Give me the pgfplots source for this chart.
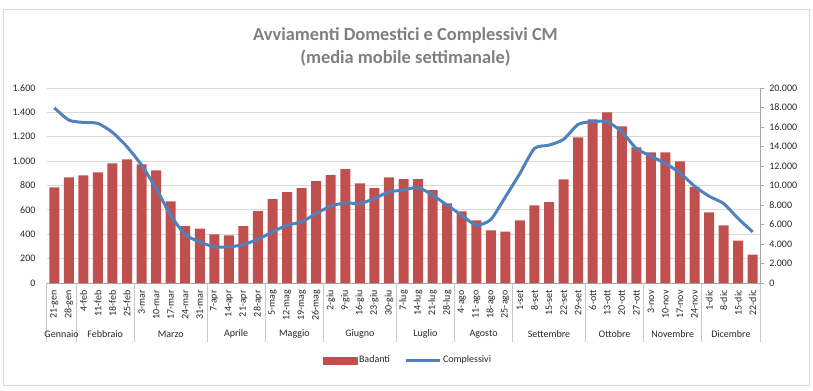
\documentclass[border=0pt]{standalone}
\usepackage{pgfplots}
\pgfplotsset{compat=1.18}
\usepackage{pgfplotstable}
\usepackage{fontspec}
\setmainfont{Carlito}
\definecolor{barred}{HTML}{C0504D}
\definecolor{lineblue}{HTML}{4F81BD}
\definecolor{gridgray}{HTML}{D9D9D9}
\definecolor{axisgray}{HTML}{A6A6A6}
\definecolor{sepgray}{HTML}{C8C8C8}
\definecolor{titlegray}{HTML}{7F7F7F}
\definecolor{txt}{HTML}{262626}

\pgfplotstableread{
x y
0 784
1 866
2 883
3 907
4 981
5 1014
6 973
7 924
8 669
9 466
10 447
11 398
12 390
13 466
14 589
15 688
16 746
17 778
18 836
19 885
20 935
21 817
22 778
23 866
24 852
25 852
26 762
27 653
28 587
29 513
30 431
31 422
32 513
33 636
34 663
35 850
36 1195
37 1343
38 1400
39 1285
40 1113
41 1072
42 1072
43 998
44 789
45 579
46 472
47 348
48 233
}\badanti

\pgfplotstableread{
x y
0 17970
1 16710
2 16470
3 16370
4 15450
5 13970
6 12090
7 9690
8 6950
9 4970
10 4210
11 3700
12 3700
13 3940
14 4490
15 5240
16 5930
17 6270
18 7130
19 7880
20 8220
21 8150
22 8670
23 9350
24 9520
25 9800
26 9010
27 7980
28 6950
29 5930
30 6510
31 8830
32 11240
33 13800
34 14140
35 14730
36 16270
37 16540
38 16540
39 15510
40 13800
41 13010
42 12260
43 11300
44 9930
45 8900
46 8150
47 6610
48 5240
}\complessivi

\begin{document}
\begin{tikzpicture}
\useasboundingbox (0,0) rectangle (609.75pt,292.5pt);
\draw[gridgray, line width=0.75pt] (2.25pt,3.75pt) rectangle (606.75pt,285pt);
\node[font=\bfseries\fontsize{13.8}{17.25}\selectfont, text=titlegray, align=center] at (304.1pt,257.6pt)
  {Avviamenti Domestici e Complessivi CM\\(media mobile settimanale)};

\begin{axis}[
  at={(35.25pt,80.25pt)}, anchor=south west,
  width=534.75pt, height=146.25pt, scale only axis,
  xmin=-0.5, xmax=48.5, ymin=0, ymax=1600,
  ytick={0,200,...,1600},
  axis x line*=bottom, axis y line*=left,
  y axis line style={draw=none},
  x axis line style={axisgray, line width=0.75pt},
  ymajorgrids, grid style={gridgray, line width=0.75pt},
  major tick length=0pt,
  xtick={0,...,48},
  xticklabels={21-gen,28-gen,4-feb,11-feb,18-feb,25-feb,3-mar,10-mar,17-mar,24-mar,31-mar,7-apr,14-apr,21-apr,28-apr,5-mag,12-mag,19-mag,26-mag,2-giu,9-giu,16-giu,23-giu,30-giu,7-lug,14-lug,21-lug,28-lug,4-ago,11-ago,18-ago,25-ago,1-set,8-set,15-set,22-set,29-set,6-ott,13-ott,20-ott,27-ott,3-nov,10-nov,17-nov,24-nov,1-dic,8-dic,15-dic,22-dic},
  xticklabel style={rotate=90, anchor=east, inner sep=0pt, text=txt, font=\fontsize{7.5}{9}\selectfont},
  xticklabel shift=5.25pt,
  yticklabel style={anchor=east, inner sep=0pt, xshift=-8.5pt, text=txt, font=\fontsize{7.5}{9}\selectfont},
  scaled y ticks=false,
  /pgf/number format/fixed,
  /pgf/number format/precision=0,
  /pgf/number format/1000 sep={.},
  /pgf/number format/assume math mode=true,
  clip=false,
]
\addplot[ybar, bar width=7.5pt, fill=barred, draw=none] table {\badanti};
\pgfplotsinvokeforeach{-0.5,1.5,5.5,10.5,14.5,18.5,23.5,27.5,31.5,36.5,40.5,44.5,48.5}{
  \draw[sepgray, line width=0.75pt] (axis cs:#1,0) -- ++(0pt,-44pt);
}
\begin{scope}[every node/.style={font=\fontsize{7.5}{9}\selectfont, text=txt}]
\node at ([yshift=-38.25pt]axis cs:0.5,0) {Gennaio};
\node at ([yshift=-38.25pt]axis cs:3.5,0) {Febbraio};
\node at ([yshift=-38.25pt]axis cs:8,0) {Marzo};
\node at ([yshift=-38.25pt]axis cs:12.5,0) {Aprile};
\node at ([yshift=-38.25pt]axis cs:16.5,0) {Maggio};
\node at ([yshift=-38.25pt]axis cs:21,0) {Giugno};
\node at ([yshift=-38.25pt]axis cs:25.5,0) {Luglio};
\node at ([yshift=-38.25pt]axis cs:29.5,0) {Agosto};
\node at ([yshift=-38.25pt]axis cs:34,0) {Settembre};
\node at ([yshift=-38.25pt]axis cs:38.5,0) {Ottobre};
\node at ([yshift=-38.25pt]axis cs:42.5,0) {Novembre};
\node at ([yshift=-38.25pt]axis cs:46.5,0) {Dicembre};
\end{scope}
\end{axis}

\begin{axis}[
  at={(35.25pt,80.25pt)}, anchor=south west,
  width=534.75pt, height=146.25pt, scale only axis,
  xmin=-0.5, xmax=48.5, ymin=0, ymax=20000,
  ytick={0,2000,...,20000},
  axis x line=none, axis y line*=right,
  y axis line style={axisgray, line width=0.75pt},
  ytick style={axisgray, line width=0.75pt},
  major tick length=3pt, tick align=outside,
  yticklabel style={anchor=west, inner sep=0pt, xshift=3.75pt, text=txt, font=\fontsize{7.5}{9}\selectfont},
  scaled y ticks=false,
  /pgf/number format/fixed,
  /pgf/number format/precision=0,
  /pgf/number format/1000 sep={.},
  /pgf/number format/assume math mode=true,
  legend style={at={(0.506,-0.397)}, anchor=center, draw=none, fill=none,
    font=\fontsize{7.5}{9}\selectfont, text=txt,
    nodes={inner sep=1pt},
    /tikz/every even column/.append style={column sep=10pt}},
  legend columns=2, legend cell align=left,
  clip=false,
]
\addlegendimage{legend image code/.code={\fill[barred] (0pt,-2.6pt) rectangle (25.5pt,2.6pt);}}
\addlegendentry{Badanti}
\addplot[lineblue, line width=2.25pt, smooth, tension=0.4, mark=none,
  legend image code/.code={\draw[lineblue, line width=2.25pt] (0pt,0pt) -- (25.5pt,0pt);}] table {\complessivi};
\addlegendentry{Complessivi}
\end{axis}
\end{tikzpicture}
\end{document}
